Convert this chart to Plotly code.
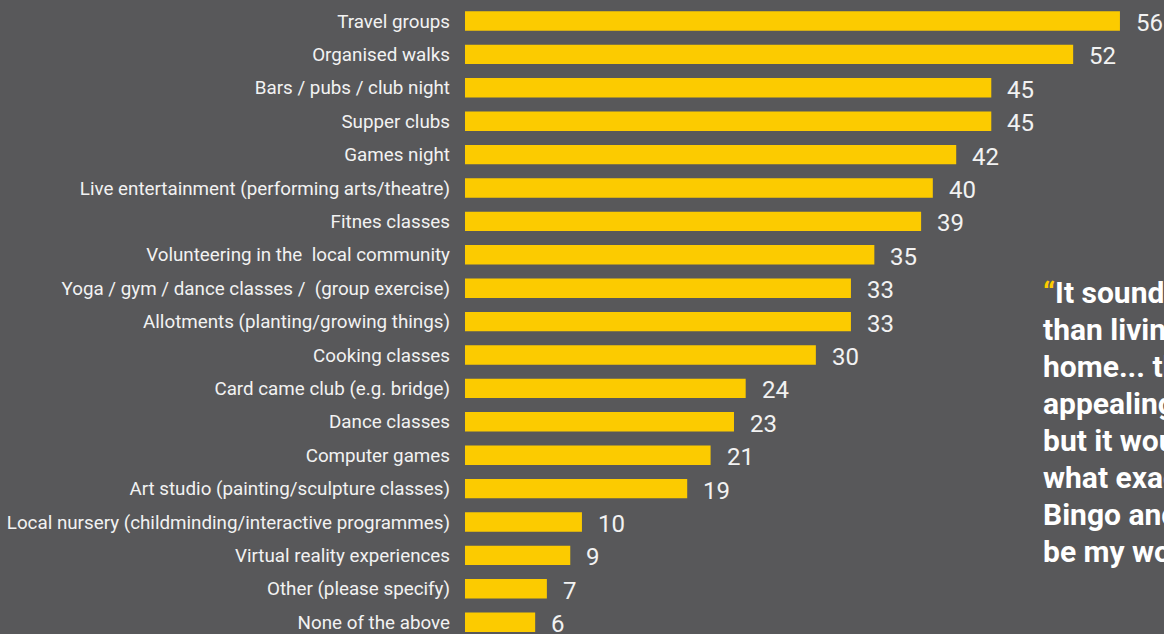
import plotly.graph_objects as go

categories = [
    "Travel groups",
    "Organised walks",
    "Bars / pubs / club night",
    "Supper clubs",
    "Games night",
    "Live entertainment (performing arts/theatre)",
    "Fitnes classes",
    "Volunteering in the  local community",
    "Yoga / gym / dance classes /  (group exercise)",
    "Allotments (planting/growing things)",
    "Cooking classes",
    "Card came club (e.g. bridge)",
    "Dance classes",
    "Computer games",
    "Art studio (painting/sculpture classes)",
    "Local nursery (childminding/interactive programmes)",
    "Virtual reality experiences",
    "Other (please specify)",
    "None of the above",
]
values = [56, 52, 45, 45, 42, 40, 39, 35, 33, 33, 30, 24, 23, 21, 19, 10, 9, 7, 6]

quote_lines = [
    "<span style='color:#fccb00'>\u201c</span>It sounds better",
    "than living at",
    "home... the idea is",
    "appealing to me",
    "but it would depend on",
    "what exactly it was.",
    "Bingo and quizzes would",
    "be my worst nightmare.\u201d",
]

BG = "#58585a"
BAR = "#fccb00"
TXT = "#f2f2f2"
H = 634

fig = go.Figure(
    go.Bar(
        x=values,
        y=categories,
        orientation="h",
        marker=dict(color=BAR, line=dict(width=0)),
        width=0.58,
        hoverinfo="skip",
    )
)

for c, v in zip(categories, values):
    fig.add_annotation(
        x=v, y=c, xref="x", yref="y",
        text=str(v), showarrow=False,
        xanchor="left", yanchor="middle",
        xshift=14, yshift=-2,
        font=dict(family="Roboto", size=24, color=TXT),
    )

for i, line in enumerate(quote_lines):
    fig.add_annotation(
        x=(1041 - 465) / 685, y=1 - (292 + 37.1 * i) / H,
        xref="paper", yref="paper",
        text=line, showarrow=False,
        xanchor="left", yanchor="middle", align="left",
        font=dict(family="Roboto", size=30, color="#ffffff", weight="bold"),
    )

fig.update_layout(
    width=1164, height=H,
    margin=dict(l=465, r=14, t=0, b=0),
    paper_bgcolor=BG, plot_bgcolor=BG,
    showlegend=False,
    font=dict(family="Roboto", color=TXT),
    xaxis=dict(range=[0, 58.57], visible=False, fixedrange=True),
    yaxis=dict(
        type="category",
        categoryorder="array", categoryarray=categories,
        range=[18.353, -0.629],
        showgrid=False, zeroline=False, showline=False,
        ticks="", ticklabelstandoff=14,
        tickfont=dict(family="Roboto", size=18.8, color=TXT),
        fixedrange=True,
    ),
)

fig.write_html("out.html")
